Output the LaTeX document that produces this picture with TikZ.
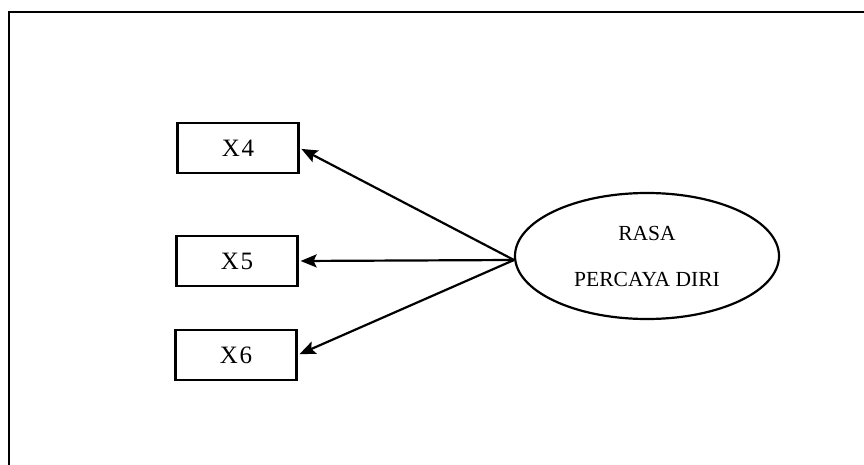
\documentclass[tikz,border=0pt]{standalone}
\usepackage{fontspec}
\setmainfont{Liberation Serif}
\usetikzlibrary{arrows.meta,shapes.geometric}
\begin{document}
\begin{tikzpicture}[x=1pt,y=-1pt,
  ind/.style={draw,line width=2.2pt,minimum width=121pt,minimum height=50pt,inner sep=0pt,font=\fontsize{25}{30}\selectfont},
  lat/.style={draw,ellipse,line width=2.2pt,minimum width=264pt,minimum height=126pt,inner sep=0pt,align=center,font=\fontsize{21.5}{46}\selectfont},
  arr/.style={line width=2.2pt,-{Stealth[length=16pt,width=13pt,inset=3pt]},shorten >=2pt}]
\useasboundingbox (0,0) rectangle (864,465);
\clip (0,0) rectangle (864,465);
\fill[white] (0,0) rectangle (864,465);
\draw[line width=2.2pt] (9,12) rectangle (885,490);
\node[ind] (x4) at (238,148) {X\hspace{1.5pt}4};
\node[ind] (x5) at (237,261) {X\hspace{1.5pt}5};
\node[ind] (x6) at (236,355) {X\hspace{1.5pt}6};
\node[lat] (f) at (647,256) {RASA\\PERCAYA DIRI};
\coordinate (src) at (514,260);
\draw[arr] (src) -- (x4.east);
\draw[arr] (src) -- (x5.east);
\draw[arr] (src) -- (x6.east);
\end{tikzpicture}
\end{document}
